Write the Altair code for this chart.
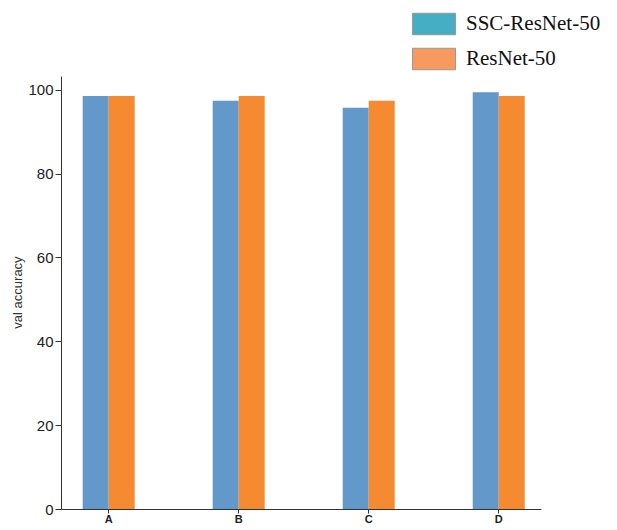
import altair as alt
import pandas as pd

categories = ["A", "B", "C", "D"]
series_names = ["SSC-ResNet-50", "ResNet-50"]
ssc_values = [98.5, 97.4, 95.7, 99.4]
resnet_values = [98.5, 98.5, 97.4, 98.5]

rows = []
for i, c in enumerate(categories):
    rows.append({"cat": c, "series": series_names[0], "val": ssc_values[i]})
    rows.append({"cat": c, "series": series_names[1], "val": resnet_values[i]})
df = pd.DataFrame(rows)

tick_font = "Liberation Sans"

x_enc = alt.X(
    "cat:N",
    sort=categories,
    title=None,
    scale=alt.Scale(paddingInner=0.6, paddingOuter=0.146, align=0.571),
    axis=alt.Axis(
        labelAngle=0, tickSize=4, domainColor="#333", tickColor="#333",
        labelFont=tick_font, labelFontSize=11, labelFontWeight="bold",
        labelColor="#222", labelPadding=0, grid=False,
    ),
)
xoff = alt.XOffset("series:N", sort=series_names)
y_enc = alt.Y(
    "val:Q",
    title="val accuracy",
    scale=alt.Scale(domain=[0, 103.3], nice=False, zero=True),
    axis=alt.Axis(
        values=[0, 20, 40, 60, 80, 100], tickSize=6, domainColor="#333",
        tickColor="#333", labelFont=tick_font, labelFontSize=15,
        labelColor="#222", grid=False, titleFont="Liberation Sans",
        titleFontSize=13, titleFontWeight="normal", titleColor="#333",
        titleX=-44, titleY=216, titleAngle=270, titleAlign="center",
        titleBaseline="middle",
    ),
)

bars = alt.Chart(df).mark_bar().encode(
    x=x_enc,
    xOffset=xoff,
    y=y_enc,
    color=alt.Color(
        "series:N",
        scale=alt.Scale(domain=series_names, range=["#6398CB", "#F68A31"]),
        legend=None,
    ),
)

legend_layer = alt.Chart(df).mark_point(size=0, filled=True).encode(
    x=alt.X("cat:N", sort=categories),
    xOffset=xoff,
    y=alt.Y("val:Q"),
    fill=alt.Fill(
        "series:N",
        scale=alt.Scale(domain=series_names, range=["#45AEC5", "#F89A60"]),
        legend=alt.Legend(
            title=None,
            orient="none",
            legendX=351,
            legendY=-74,
            symbolType="M-1,-0.5H1V0.5H-1Z",
            symbolSize=1849,
            symbolStrokeColor="#999999",
            symbolStrokeWidth=1,
            symbolOpacity=1,
            labelFont="Liberation Serif",
            labelFontSize=21,
            labelColor="#111",
            labelOffset=10,
            rowPadding=-5,
            padding=0,
            labelLimit=300,
        ),
    ),
)

chart = alt.layer(bars, legend_layer).resolve_scale(
    color="independent", fill="independent"
).properties(
    width=480,
    height=433,
    autosize=alt.AutoSizeParams(type="none"),
    padding={"left": 53, "top": 68, "right": 68, "bottom": 14},
).configure_view(stroke=None)

chart.save("out.html", embed_options={"renderer": "svg", "actions": False})
